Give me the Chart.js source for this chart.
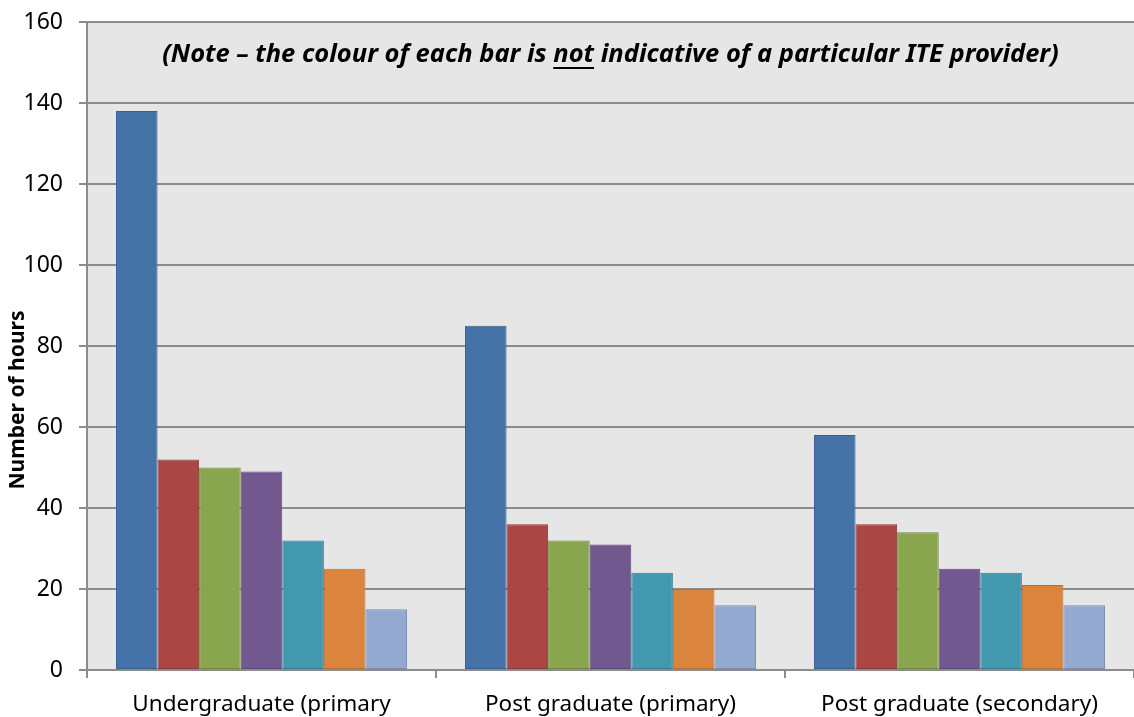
<!DOCTYPE html>
<html>
<head>
<meta charset="utf-8">
<script src="https://cdn.jsdelivr.net/npm/chart.js@4"></script>
<style>
  body { margin: 0; background: #fff; }
  #wrap { width: 1134px; height: 717px; }
</style>
</head>
<body>
<div id="wrap"><canvas id="myChart" width="1134" height="717"></canvas></div>
<script>
'use strict';

const categories = ['Undergraduate (primary', 'Post graduate (primary)', 'Post graduate (secondary)'];

// one series per bar position in each group
const bar1 = [138, 85, 58];
const bar2 = [52, 36, 36];
const bar3 = [50, 32, 34];
const bar4 = [49, 31, 25];
const bar5 = [32, 24, 24];
const bar6 = [25, 20, 21];
const bar7 = [15, 16, 16];

const yTicks = [0, 20, 40, 60, 80, 100, 120, 140, 160];

const fills = ['#4572A7', '#AA4643', '#89A54E', '#71588F', '#4198AF', '#DB843D', '#93A9CF'];
const edges = ['#3A5F8B', '#8B3836', '#71893F', '#5C4776', '#357E91', '#B66D31', '#7A8DB0'];

const series = [bar1, bar2, bar3, bar4, bar5, bar6, bar7];

const FONT = '"Noto Sans", "DejaVu Sans", sans-serif';
const GRID = '#8c8c8c';

const plotBg = {
	id: 'plotBg',
	beforeDraw(chart) {
		const { ctx, chartArea: a } = chart;
		ctx.save();
		ctx.fillStyle = '#e6e6e6';
		ctx.fillRect(a.left, a.top, a.right - a.left, a.bottom - a.top);
		ctx.restore();
	},
};

const notes = {
	id: 'notes',
	afterDraw(chart) {
		const { ctx, chartArea: a } = chart;
		ctx.save();
		// note across the top of the plot
		const parts = ['(Note \u2013 the colour of each bar is ', 'not', ' indicative of a particular ITE provider)'];
		ctx.font = 'italic bold 25.5px ' + FONT;
		ctx.fillStyle = '#000';
		ctx.textBaseline = 'middle';
		ctx.textAlign = 'left';
		const widths = parts.map(p => ctx.measureText(p).width);
		const total = widths.reduce((s, w) => s + w, 0);
		let x = (a.left + a.right) / 2 - total / 2;
		const y = 55;
		parts.forEach((p, i) => {
			ctx.fillText(p, x, y);
			if (i === 1) {
				ctx.fillRect(x, y + 12, widths[i], 2);
			}
			x += widths[i];
		});

		// y axis title
		ctx.translate(18, 400);
		ctx.rotate(-Math.PI / 2);
		ctx.font = 'bold 21px ' + FONT;
		ctx.textAlign = 'center';
		ctx.fillText('Number of hours', 0, 0);
		ctx.restore();
	},
};

const ctx = document.getElementById('myChart').getContext('2d');

const myChart = new Chart(ctx, {
	type: 'bar',
	data: {
		labels: categories,
		datasets: series.map((vals, i) => ({
			data: vals,
			backgroundColor: fills[i],
			borderColor: edges[i],
			borderWidth: 1,
			borderSkipped: false,
			categoryPercentage: 0.834,
			barPercentage: 1.0,
		})),
	},
	options: {
		responsive: false,
		animation: false,
		layout: { padding: { top: 22, right: 0, left: 0, bottom: 0 } },
		plugins: {
			legend: { display: false },
			tooltip: { enabled: false },
		},
		scales: {
			y: {
				min: 0,
				max: 160,
				afterBuildTicks(scale) {
					scale.ticks = yTicks.map(v => ({ value: v }));
				},
				afterFit(scale) {
					scale.width = 87;
					scale.paddingTop = 0;
					scale.paddingBottom = 0;
				},
				ticks: {
					color: '#000',
					padding: 16,
					font: { family: FONT, size: 23 },
				},
				grid: {
					color: GRID,
					lineWidth: 2,
					tickLength: 8,
				},
				border: { color: GRID, width: 2 },
			},
			x: {
				afterFit(scale) {
					scale.height = 47;
					scale.paddingLeft = 0;
					scale.paddingRight = 0;
				},
				ticks: {
					color: '#000',
					padding: 13,
					font: { family: FONT, size: 22.5 },
				},
				grid: {
					offset: true,
					drawOnChartArea: false,
					drawTicks: true,
					tickLength: 8,
					color: GRID,
					lineWidth: 2,
				},
				border: { color: GRID, width: 2 },
			},
		},
	},
	plugins: [plotBg, notes],
});
</script>
</body>
</html>
